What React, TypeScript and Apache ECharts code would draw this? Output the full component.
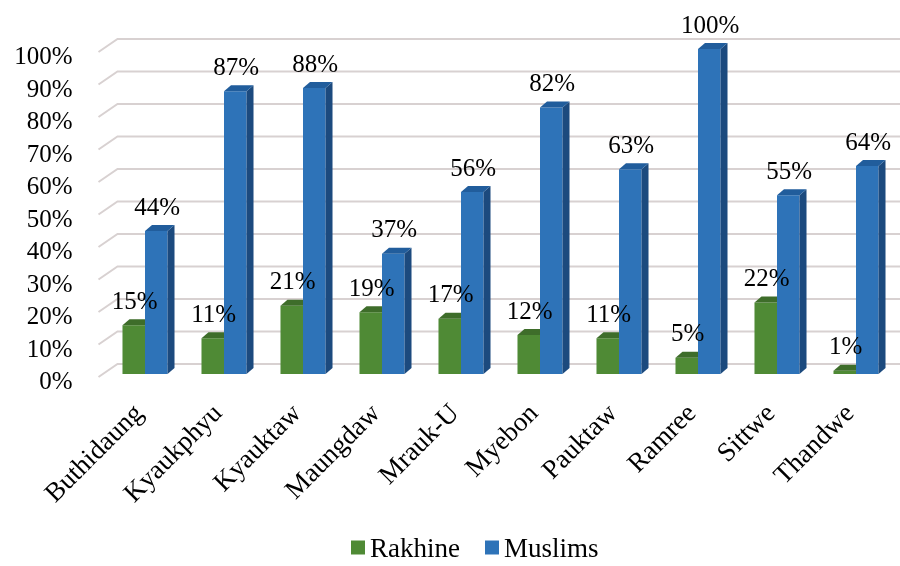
import React, { useEffect, useRef } from 'react';
import * as echarts from 'echarts';

const categories = ['Buthidaung', 'Kyaukphyu', 'Kyauktaw', 'Maungdaw', 'Mrauk-U', 'Myebon', 'Pauktaw', 'Ramree', 'Sittwe', 'Thandwe'];
const rakhine = [15, 11, 21, 19, 17, 12, 11, 5, 22, 1];
const muslims = [44, 87, 88, 37, 56, 82, 63, 100, 55, 64];
const yTicks = [0, 10, 20, 30, 40, 50, 60, 70, 80, 90, 100];

const FONT = 'Liberation Serif';
const GREEN = { front: '#4f8a35', side: '#355f22', top: '#3e6d2a' };
const BLUE = { front: '#2e73b8', side: '#1c4a7e', top: '#215d9c' };
const DX = 7;
const DY = -6;
const BAR_FRAC = 0.285;

function barRender(colors: any, left: boolean) {
  return (params: any, api: any) => {
    const idx = api.value(0);
    const val = api.value(1);
    const band = api.size([1, 0])[0];
    const w = band * BAR_FRAC;
    const base = api.coord([idx, 0]);
    const top = api.coord([idx, val]);
    const x0 = left ? base[0] - w : base[0];
    const x1 = x0 + w;
    const yb = base[1];
    const yt = top[1];
    return {
      type: 'group',
      children: [
        { type: 'rect', shape: { x: x0, y: yt, width: w, height: yb - yt }, style: { fill: colors.front } },
        { type: 'polygon', shape: { points: [[x1, yt], [x1 + DX, yt + DY], [x1 + DX, yb + DY], [x1, yb]] }, style: { fill: colors.side } },
        { type: 'polygon', shape: { points: [[x0, yt], [x0 + DX, yt + DY], [x1 + DX, yt + DY], [x1, yt]] }, style: { fill: colors.top } },
      ],
    };
  };
}

function labelRender(left: boolean) {
  return (params: any, api: any) => {
    const idx = api.value(0);
    const val = api.value(1);
    const band = api.size([1, 0])[0];
    const w = band * BAR_FRAC;
    const base = api.coord([idx, 0]);
    const top = api.coord([idx, val]);
    const cx = left ? base[0] - w / 2 : base[0] + w / 2;
    return {
      type: 'text',
      x: cx + 1,
      y: top[1] - 25,
      style: {
        text: val + '%',
        fill: '#000',
        fontSize: 25,
        fontFamily: FONT,
        align: 'center',
        verticalAlign: 'middle',
      },
    };
  };
}

function gridRender(params: any, api: any) {
  const y = api.coord([0, api.value(1)])[1];
  const cs = params.coordSys;
  return {
    type: 'polyline',
    shape: { points: [[cs.x - 7, y + 3], [cs.x + 12, y - 10], [900, y - 10]] },
    style: { stroke: '#d8d1d1', lineWidth: 2, fill: 'none' },
  };
}

export default function App() {
  const ref = useRef<HTMLDivElement>(null);
  useEffect(() => {
    if (!ref.current) return;
    const chart = echarts.init(ref.current, null, { renderer: 'svg' });
    chart.setOption({
      animation: false,
      grid: { left: 105.5, right: 4.5, top: 49, bottom: 192 },
      legend: {
        data: ['Rakhine', 'Muslims'],
        bottom: 0,
        left: 346,
        icon: 'rect',
        itemWidth: 14,
        itemHeight: 14,
        itemGap: 25,
        textStyle: { fontSize: 27, fontFamily: FONT, color: '#000' },
      },
      xAxis: {
        type: 'category',
        data: categories,
        axisLine: { show: false },
        axisTick: { show: false },
        splitLine: { show: false },
        axisLabel: {
          rotate: 45,
          interval: 0,
          fontSize: 27,
          fontFamily: FONT,
          color: '#000',
          margin: 27,
          padding: [0, 10, 0, 0],
        },
      },
      yAxis: {
        type: 'value',
        min: 0,
        max: 100,
        interval: 10,
        axisLine: { show: false },
        axisTick: { show: false },
        splitLine: { show: false },
        axisLabel: {
          formatter: '{value}%',
          fontSize: 25,
          fontFamily: FONT,
          color: '#000',
          margin: 33,
          verticalAlign: 'top',
          lineHeight: 13,
        },
      },
      series: [
        {
          type: 'custom',
          name: 'grid',
          z: 1,
          silent: true,
          renderItem: gridRender,
          encode: { x: 0, y: 1 },
          data: yTicks.map((t) => [0, t]),
        },
        {
          type: 'custom',
          name: 'Rakhine',
          z: 2,
          itemStyle: { color: '#4f8a35' },
          renderItem: barRender(GREEN, true),
          encode: { x: 0, y: 1 },
          data: rakhine.map((v, i) => [i, v]),
        },
        {
          type: 'custom',
          name: 'Muslims',
          z: 2,
          itemStyle: { color: '#2e73b8' },
          renderItem: barRender(BLUE, false),
          encode: { x: 0, y: 1 },
          data: muslims.map((v, i) => [i, v]),
        },
        {
          type: 'custom',
          name: 'Rakhine labels',
          z: 5,
          renderItem: labelRender(true),
          encode: { x: 0, y: 1 },
          data: rakhine.map((v, i) => [i, v]),
        },
        {
          type: 'custom',
          name: 'Muslims labels',
          z: 5,
          renderItem: labelRender(false),
          encode: { x: 0, y: 1 },
          data: muslims.map((v, i) => [i, v]),
        },
      ],
    });
    return () => chart.dispose();
  }, []);
  return <div ref={ref} style={{ position: 'fixed', left: 0, top: 0, width: 900, height: 566 }} />;
}
